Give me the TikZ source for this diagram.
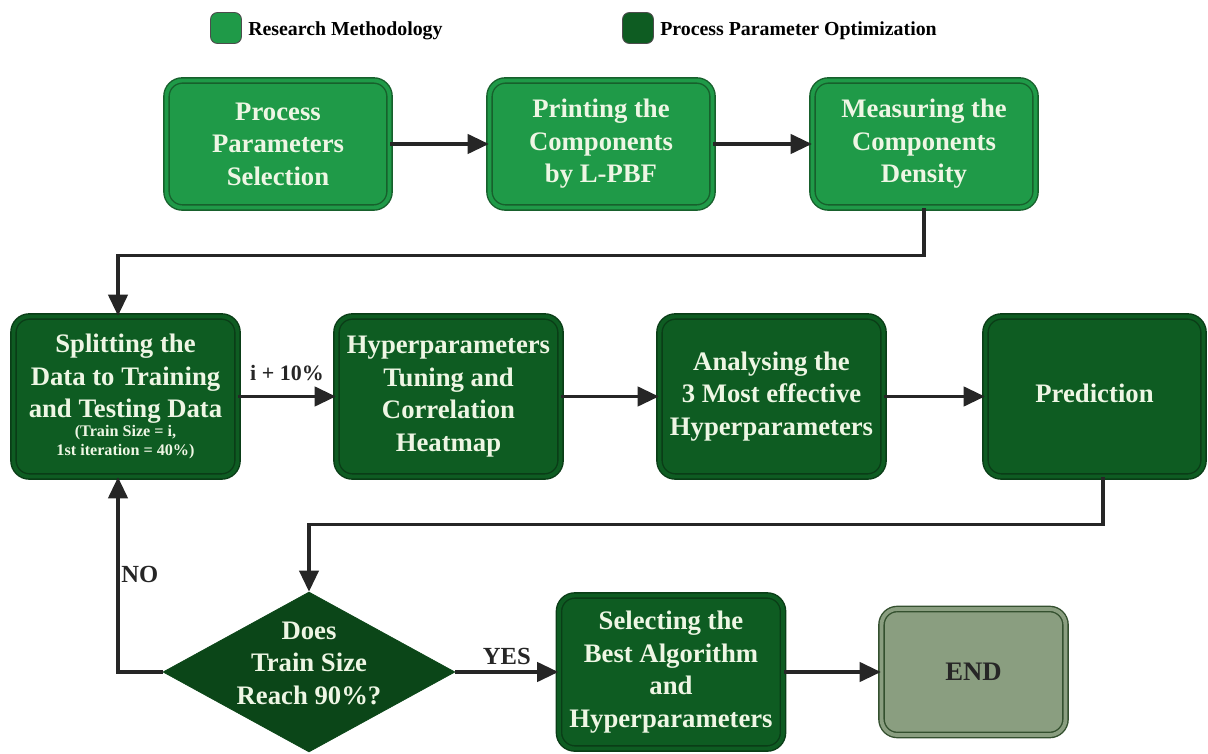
\documentclass[tikz,border=0pt]{standalone}
\usepackage{fontspec}
\setmainfont{Liberation Serif}
\usepackage{tikz}
\usetikzlibrary{arrows.meta,shapes.geometric,positioning}

\definecolor{methgreen}{HTML}{1F9A48}
\definecolor{methborder}{HTML}{17602C}
\definecolor{optgreen}{HTML}{0E5C22}
\definecolor{optborder}{HTML}{0A3D17}
\definecolor{decgreen}{HTML}{0B4618}
\definecolor{endgreen}{HTML}{8A9E80}
\definecolor{endborder}{HTML}{34502F}
\definecolor{arrowgray}{HTML}{262626}
\definecolor{boxtext}{HTML}{EEF6E4}

\begin{document}
\begin{tikzpicture}[
    node distance=6.46cm,
    >={Triangle[length=12pt, width=11pt]},
    block/.style={
        rectangle,
        rounded corners=9pt,
        line width=0.8pt,
        double distance=2.2pt,
        align=center,
        inner sep=0pt,
        text=boxtext,
        font=\fontsize{15.2}{18.5}\selectfont\bfseries
    },
    method/.style={block, fill=methgreen, draw=methborder, double=methgreen,
        minimum width=4.46cm, minimum height=2.54cm},
    optim/.style={block, fill=optgreen, draw=optborder, double=optgreen,
        minimum width=4.48cm, minimum height=3.2cm},
    finish/.style={block, fill=endgreen, draw=endborder, double=endgreen,
        text=arrowgray, minimum width=3.68cm, minimum height=2.52cm},
    decision/.style={diamond, fill=decgreen, draw=decgreen, inner sep=0pt,
        minimum width=5.84cm, minimum height=3.2cm},
    decisiontext/.style={align=center, text=boxtext, yshift=0.18cm,
        font=\fontsize{15.2}{18.5}\selectfont\bfseries},
    legendbox/.style={rectangle, rounded corners=4pt, draw=black!70, line width=0.5pt,
        minimum size=0.62cm},
    legendtext/.style={inner sep=0pt, yshift=-0.05cm, font=\fontsize{11.3}{13}\selectfont\bfseries},
    link/.style={line width=1.8pt, draw=arrowgray},
    tag/.style={inner sep=1pt, text=arrowgray, font=\fontsize{14}{16}\selectfont\bfseries}
]

\useasboundingbox (0,0) rectangle (24.16,-15.08);

% LEGEND
\node[legendbox, fill=methgreen] (legmeth) at (4.52,-0.56) {};
\node[legendtext, right=0.12cm of legmeth] (legmethtxt) {Research Methodology};
\node[legendbox, fill=optgreen] (legopt) at (12.76,-0.56) {};
\node[legendtext, right=0.12cm of legopt] (legopttxt) {Process Parameter Optimization};

% ROW 1
\node[method] (select) at (5.56,-2.88) {Process\\Parameters\\Selection};
\node[method, right of=select] (print) {Printing the\\Components\\by L-PBF};
\node[method, right of=print] (measure) {Measuring the\\Components\\Density};

% ROW 2
\node[optim] (split) at (2.51,-7.93) {Splitting the\\Data to Training\\and Testing Data\\[-8pt]
    {\fontsize{9.2}{11}\selectfont (Train Size = i,}\\[-7.5pt]
    {\fontsize{9.2}{11}\selectfont 1st iteration = 40\%)}};
\node[optim, right of=split] (tuning) {Hyperparameters\\Tuning and\\Correlation\\Heatmap};
\node[optim, right of=tuning] (analyse) {Analysing the\\3 Most effective\\Hyperparameters};
\node[optim, right of=analyse, minimum width=4.36cm] (predict) {\raisebox{4pt}{Prediction}};

% ROW 3
\node[decision, label={[decisiontext]center:Does\\Train Size\\Reach 90\%?}] (check) at (6.18,-13.44) {};
\node[optim, right of=check, node distance=7.24cm, minimum height=3.06cm] (best)
    {Selecting the\\Best Algorithm\\and\\Hyperparameters};
\node[finish, right of=best, node distance=6.05cm] (end) {END};

% --- ARROWS ---
% Research methodology
\draw[link, ->] (select) -- (print);
\draw[link, ->] (print) -- (measure);
\draw[link, ->] (measure.south) -- ++(0,-0.94) -| ([xshift=-0.15cm]split.north);

% Optimization loop
\draw[link, ->] (split) -- node[tag, above=7pt, font=\fontsize{12.5}{14}\selectfont\bfseries] {i + 10\%} (tuning);
\draw[link, ->] (tuning) -- (analyse);
\draw[link, ->] (analyse) -- (predict);
\draw[link, ->] ([xshift=0.17cm]predict.south) -- ++(0,-0.94) -| (check.north);

% Decision
\draw[link, ->] (check.west) -| node[tag, pos=0.75, right] {NO} ([xshift=-0.15cm]split.south);
\draw[link, ->] (check) -- node[tag, above=2pt] {YES} (best);
\draw[link, ->] (best) -- (end);

\end{tikzpicture}
\end{document}
